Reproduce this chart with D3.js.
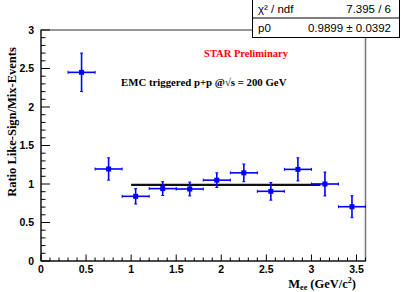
<!DOCTYPE html>
<html><head><meta charset="utf-8">
<script src="https://cdn.jsdelivr.net/npm/d3@7"></script>
<style>body{margin:0;background:#fff;} svg{display:block;}</style>
</head><body>
<svg id="c" width="407" height="292"></svg>
<script>
const binLow  = [0.3,0.6,0.9,1.2,1.5,1.8,2.1,2.4,2.7,3.0,3.3];
const binHigh = [0.6,0.9,1.2,1.5,1.8,2.1,2.4,2.7,3.0,3.3,3.6];
const ratio   = [2.45,1.195,0.84,0.94,0.935,1.05,1.145,0.905,1.19,1.0,0.705];
const ratioErr= [0.25,0.145,0.10,0.09,0.09,0.095,0.115,0.115,0.15,0.155,0.143];
const fitRange = [1.0,3.1];
const fitValue = 0.9899;
const xTicks = [0,0.5,1,1.5,2,2.5,3,3.5];
const yTicks = [0,0.5,1,1.5,2,2.5,3];
const statLabels = ["\u03c7\u00b2 / ndf","p0"];
const statValues = ["7.395 / 6","0.9899 \u00b1 0.0392"];

const svg = d3.select("#c");
const x = d3.scaleLinear().domain([0,3.6]).range([41,365.5]);
const y = d3.scaleLinear().domain([0,3]).range([261,30]);

// frame
svg.append("rect").attr("x",41).attr("y",30).attr("width",324.5).attr("height",231)
  .attr("fill","none").attr("stroke","#777").attr("stroke-width",1.5);

// ticks
const g = svg.append("g");
d3.range(0,3.001,0.1).forEach(v=>{
  const major = Math.abs(v*2-Math.round(v*2))<1e-6;
  g.append("line").attr("x1",41).attr("x2",41+(major?9:4.5))
   .attr("y1",y(v)).attr("y2",y(v)).attr("stroke","#000").attr("stroke-width",1);
});
d3.range(0,3.601,0.1).forEach(v=>{
  const major = Math.abs(v*2-Math.round(v*2))<1e-6;
  g.append("line").attr("y1",261).attr("y2",261-(major?6.5:3.5))
   .attr("x1",x(v)).attr("x2",x(v)).attr("stroke","#000").attr("stroke-width",1);
});
g.append("line").attr("x1",41).attr("x2",41).attr("y1",30).attr("y2",261).attr("stroke","#000");
g.append("line").attr("x1",41).attr("x2",365.5).attr("y1",261).attr("y2",261).attr("stroke","#000");

const tf = "Liberation Sans, Arial, sans-serif";
svg.selectAll(".yl").data(yTicks).enter().append("text")
  .attr("x",34).attr("y",d=>y(d)+3.5).attr("text-anchor","end")
  .attr("font-family",tf).attr("font-weight","bold").attr("font-size",10.5).text(d=>d);
svg.selectAll(".xl").data(xTicks).enter().append("text")
  .attr("x",d=>x(d)).attr("y",273).attr("text-anchor","middle")
  .attr("font-family",tf).attr("font-weight","bold").attr("font-size",10.5).text(d=>d);

const sf = "Liberation Serif, Times New Roman, serif";
svg.append("text").attr("transform","translate(16,122) rotate(-90)")
  .attr("text-anchor","middle").attr("font-family",sf).attr("font-weight","bold")
  .attr("font-size",12.5).text("Ratio Like-Sign/Mix-Events");

const xt = svg.append("text").attr("x",356).attr("y",288).attr("text-anchor","end")
  .attr("font-family",sf).attr("font-weight","bold").attr("font-size",12.5);
xt.append("tspan").text("M");
xt.append("tspan").attr("font-size",8).attr("dy",2).text("ee");
xt.append("tspan").attr("dy",-2).text(" (GeV/c");
xt.append("tspan").attr("font-size",8).attr("dy",-5).text("2");
xt.append("tspan").attr("dy",5).text(")");

svg.append("text").attr("x",246).attr("y",57).attr("text-anchor","middle")
  .attr("font-family",sf).attr("font-weight","bold").attr("font-size",10.5)
  .attr("fill","#ff0000").text("STAR Preliminary");
const em = svg.append("text").attr("x",121).attr("y",86)
  .attr("font-family",sf).attr("font-weight","bold").attr("font-size",10.8);
em.append("tspan").text("EMC triggered p+p @");
em.append("tspan").text("\u221as = 200 GeV");

// fit line
svg.append("line").attr("x1",x(fitRange[0])).attr("x2",x(fitRange[1]))
  .attr("y1",y(fitValue)).attr("y2",y(fitValue)).attr("stroke","#111").attr("stroke-width",2.2);

// data
const pts = ratio.map((v,i)=>({lo:binLow[i],hi:binHigh[i],v,e:ratioErr[i]}));
const pg = svg.append("g").attr("stroke","#0000ff").attr("stroke-width",1.6);
pts.forEach(p=>{
  const cx = x((p.lo+p.hi)/2), cy = y(p.v);
  pg.append("line").attr("x1",x(p.lo)).attr("x2",x(p.hi)).attr("y1",cy).attr("y2",cy);
  pg.append("line").attr("x1",cx).attr("x2",cx).attr("y1",y(p.v+p.e)).attr("y2",y(p.v-p.e));
  [p.v+p.e,p.v-p.e].forEach(e=>pg.append("line").attr("x1",cx-1.5).attr("x2",cx+1.5).attr("y1",y(e)).attr("y2",y(e)).attr("stroke-width",1));
  [p.lo,p.hi].forEach(e=>pg.append("line").attr("x1",x(e)).attr("x2",x(e)).attr("y1",cy-1.5).attr("y2",cy+1.5).attr("stroke-width",1));
  svg.append("rect").attr("x",cx-2.5).attr("y",cy-2.5).attr("width",5).attr("height",5).attr("fill","#0000ff");
});

// stat box
svg.append("rect").attr("x",252.5).attr("y",-1).attr("width",147).attr("height",38.5)
  .attr("fill","#fff").attr("stroke","#000").attr("stroke-width",1);
svg.append("line").attr("x1",252.5).attr("x2",399.5).attr("y1",18).attr("y2",18).attr("stroke","#000");
statLabels.forEach((s,i)=>{
  svg.append("text").attr("x",258).attr("y",13+i*18.5).attr("font-family",tf)
    .attr("font-size",11.5).text(s);
  svg.append("text").attr("x",391).attr("y",13+i*18.5).attr("text-anchor","end")
    .attr("font-family",tf).attr("font-size",11.5).text(statValues[i]);
});
</script>
</body></html>
